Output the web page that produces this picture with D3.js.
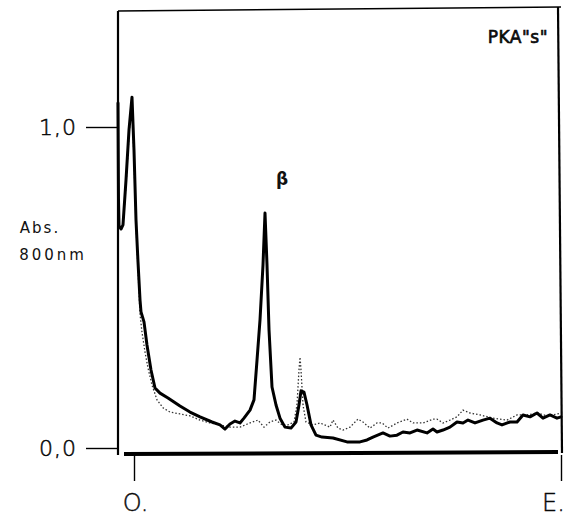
<!DOCTYPE html>
<html>
<head>
<meta charset="utf-8">
<script src="https://cdn.jsdelivr.net/npm/d3@7/dist/d3.min.js"></script>
<style>
  html, body { margin: 0; padding: 0; background: #fff; }
  svg { display: block; }
  text { font-family: "DejaVu Sans", "Liberation Sans", sans-serif; fill: #111; }
</style>
</head>
<body>
<svg id="chart" width="567" height="520"></svg>
<script>
// ---- data (x: elution position, O. = 0 ... E. = 100; y: absorbance at 800 nm) ----
const solidX = [-3.75,-3.63,-3.51,-3.04,-2.58,-1.87,-1.17,-0.47,0,0.47,0.94,1.41,1.64,2.34,3.04,3.98,4.92,6.09,7.96,10.77,13.11,15.46,18.27,20.14,21.31,22.48,23.65,24.82,25.76,27.17,28.10,28.81,29.51,30.21,30.68,31.15,31.62,32.32,33.26,34.19,35.36,36.77,37.94,38.64,39.11,39.81,40.52,41.45,42.62,44.03,46.60,49.88,52.93,54.57,55.97,58.31,59.95,61.59,62.99,64.64,66.28,68.62,70.02,70.96,72.37,74.00,75.64,77.05,78.22,79.86,81.73,83.37,85.01,86.18,88.06,89.70,91.10,92.74,94.38,95.78,97.42,99.06,100];
const solidAbs = [1.075,0.773,0.692,0.682,0.695,0.835,0.991,1.093,0.928,0.710,0.579,0.461,0.424,0.393,0.321,0.243,0.187,0.171,0.156,0.131,0.112,0.097,0.081,0.072,0.059,0.075,0.084,0.078,0.093,0.118,0.150,0.274,0.399,0.570,0.732,0.570,0.368,0.190,0.134,0.093,0.065,0.062,0.081,0.134,0.178,0.174,0.134,0.072,0.040,0.034,0.031,0.019,0.019,0.025,0.034,0.047,0.037,0.040,0.050,0.047,0.056,0.047,0.059,0.050,0.056,0.065,0.081,0.078,0.087,0.078,0.087,0.093,0.078,0.072,0.081,0.081,0.103,0.097,0.109,0.093,0.103,0.093,0.097];

const dottedX = [-3.28,-2.58,-1.87,-1.17,-0.47,0,0.47,0.94,1.41,1.87,2.58,3.28,4.22,5.39,6.79,8.43,10.77,13.11,15.46,17.80,20.14,22.48,24.82,27.17,29.04,30.44,31.85,33.26,34.66,36.07,37.47,38.17,38.64,38.88,39.11,39.58,40.28,41.92,43.56,45.90,46.60,47.78,48.95,50.59,52.46,53.63,55.27,56.91,58.08,59.48,61.59,63.93,65.34,67.68,70.02,70.96,72.37,74.00,75.64,77.05,78.69,81.03,84.07,87.35,89.70,92.04,94.38,96.72,99.06,100];
const dottedAbs = [0.685,0.695,0.819,0.975,1.084,0.897,0.695,0.555,0.417,0.361,0.299,0.249,0.196,0.150,0.125,0.112,0.106,0.100,0.087,0.078,0.072,0.065,0.065,0.078,0.087,0.065,0.081,0.087,0.072,0.072,0.081,0.134,0.243,0.283,0.243,0.134,0.081,0.072,0.078,0.065,0.087,0.062,0.056,0.065,0.090,0.081,0.062,0.078,0.078,0.062,0.078,0.090,0.078,0.078,0.090,0.090,0.078,0.087,0.097,0.118,0.109,0.103,0.093,0.087,0.103,0.103,0.109,0.100,0.106,0.109];

const yTicks = [0, 1];
const yTickLabels = ["0,0", "1,0"];
const xTicks = [0, 100];
const xTickLabels = ["O.", "E."];
const yTitle = ["Abs.", "800nm"];
const panelLabel = 'PKA"s"';
const peakLabel = "β";
const peakLabelPos = [34.7, 0.82];

// ---- layout ----
const svg = d3.select("#chart");
const frame = { left: 118, right: 560, top: 10, bottom: 454 };

const x = d3.scaleLinear().domain([0, 100]).range([134, 561]);
const y = d3.scaleLinear().domain([0, 1]).range([448, 127]);

// frame
const g = svg.append("g");
g.append("line").attr("x1", frame.left).attr("x2", frame.left)
  .attr("y1", frame.top + 1).attr("y2", frame.bottom + 1)
  .attr("stroke", "#000").attr("stroke-width", 2.2);
g.append("line").attr("x1", frame.left).attr("x2", frame.right + 1)
  .attr("y1", frame.top + 1).attr("y2", frame.top - 3)
  .attr("stroke", "#000").attr("stroke-width", 1.6);
g.append("line").attr("x1", frame.right - 2).attr("x2", frame.right + 2)
  .attr("y1", frame.top - 3).attr("y2", frame.bottom - 1)
  .attr("stroke", "#000").attr("stroke-width", 2.2);
g.append("line").attr("x1", 124).attr("x2", 558)
  .attr("y1", frame.bottom).attr("y2", frame.bottom - 2)
  .attr("stroke", "#000").attr("stroke-width", 4);

// y axis
const yAxis = d3.axisLeft(y).tickValues(yTicks)
  .tickFormat((d, i) => yTickLabels[i]).tickSize(31).tickPadding(9);
const ya = svg.append("g").attr("transform", `translate(${frame.left - 1},0)`).call(yAxis);
ya.select(".domain").remove();
ya.selectAll(".tick line").attr("stroke", "#000").attr("stroke-width", 1.4);
ya.selectAll(".tick text").attr("font-size", 22).attr("font-weight", 200)
  .attr("letter-spacing", 1).attr("font-family", '"DejaVu Sans", sans-serif').attr("fill", "#000")
  .attr("stroke", "#000").attr("stroke-width", 0.5);

// x axis
const xAxis = d3.axisBottom(x).tickValues(xTicks)
  .tickFormat((d, i) => xTickLabels[i]).tickSize(26).tickPadding(13);
const xa = svg.append("g").attr("transform", `translate(0,${frame.bottom + 1})`).call(xAxis);
xa.select(".domain").remove();
xa.selectAll(".tick line").attr("stroke", "#000").attr("stroke-width", 1.4);
xa.selectAll(".tick text").attr("font-size", 24).attr("font-weight", 200)
  .attr("font-family", '"DejaVu Sans", sans-serif').attr("fill", "#000")
  .attr("stroke", "#000").attr("stroke-width", 0.4)
  .attr("dx", (d, i) => i === 1 ? -8 : 1);

// y title
svg.append("text").attr("x", 40).attr("y", 233).attr("text-anchor", "middle")
  .attr("font-size", 15).attr("letter-spacing", 2).text(yTitle[0]);
svg.append("text").attr("x", 53).attr("y", 260).attr("text-anchor", "middle")
  .attr("font-size", 15).attr("letter-spacing", 3).text(yTitle[1]);

// curves
const dottedLine = d3.line().x((d, i) => x(dottedX[i])).y(d => y(d));
svg.append("path").datum(dottedAbs).attr("d", dottedLine)
  .attr("fill", "none").attr("stroke", "#333").attr("stroke-width", 1.3)
  .attr("stroke-dasharray", "1.5,2");

const solidLine = d3.line().x((d, i) => x(solidX[i])).y(d => y(d));
svg.append("path").datum(solidAbs).attr("d", solidLine)
  .attr("fill", "none").attr("stroke", "#000").attr("stroke-width", 3)
  .attr("stroke-linejoin", "round").attr("stroke-linecap", "round");

// labels
svg.append("text").attr("x", 548).attr("y", 43).attr("text-anchor", "end")
  .attr("font-size", 17).attr("letter-spacing", 0.5)
  .attr("stroke", "#000").attr("stroke-width", 0.6)
  .attr("font-family", '"Liberation Sans", Arial, sans-serif').text(panelLabel);
svg.append("text").attr("x", x(peakLabelPos[0])).attr("y", y(peakLabelPos[1]))
  .attr("text-anchor", "middle").attr("font-size", 17).attr("font-weight", "bold")
  .attr("font-family", '"Liberation Sans", Arial, sans-serif').text(peakLabel);
</script>
</body>
</html>
